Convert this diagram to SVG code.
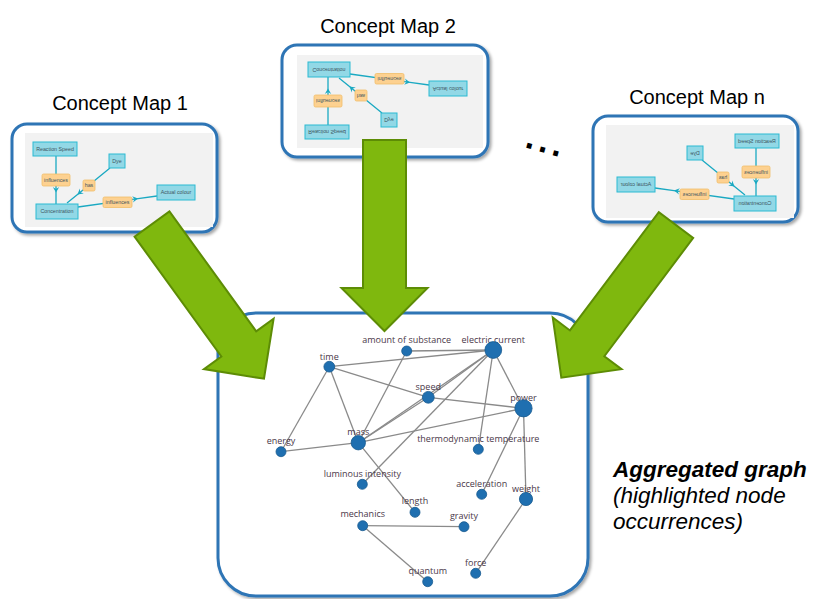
<svg xmlns="http://www.w3.org/2000/svg" xmlns:xlink="http://www.w3.org/1999/xlink" width="814" height="599" viewBox="0 0 814 599">
<style>
.title{font-family:"Liberation Sans",Arial,sans-serif;font-size:20px;fill:#000;text-anchor:middle}
.box{fill:#fff;stroke:#2e74b5;stroke-width:3}
.panel{fill:#f2f2f2}
.cn{fill:#92d8e6;stroke:#2bbad2;stroke-width:1}
.cl{fill:#fdd190;stroke:#f0be6a;stroke-width:0.8}
.ct{font-family:"Liberation Sans",Arial,sans-serif;font-size:5.3px;fill:#3d5560;text-anchor:middle}
.ce{fill:none;stroke:#1aa9c2;stroke-width:1.3}
.arrow{fill:#7fb80e;stroke:#5d8c05;stroke-width:2;stroke-linejoin:miter}
.ge{stroke:#8a8a8a;stroke-width:1.3}
.gn{fill:#1f6fb0;stroke:#185a8f;stroke-width:0.8}
.gt{font-family:"Open Sans","Liberation Sans",sans-serif;font-size:9px;fill:#4a3848;text-anchor:middle}
.agg{font-family:"Liberation Sans",Arial,sans-serif;font-size:22.5px;fill:#000;font-style:italic}
</style>
<defs>
<filter id="sh" x="-10%" y="-10%" width="130%" height="130%"><feDropShadow dx="2" dy="2" stdDeviation="1.5" flood-color="#000" flood-opacity="0.35"/></filter>
<marker id="ta" viewBox="-6 -4 7 8" refX="0" refY="0" markerWidth="7" markerHeight="8" markerUnits="userSpaceOnUse" orient="auto"><path d="M0,0 L-5.5,-3.2 L-3.6,0 L-5.5,3.2 Z" fill="#1aa9c2"/></marker>
<polygon id="arr" points="0,-21.5 148,-21.5 148,-43 191,0 148,43 148,21.5 0,21.5"/>
<g id="cmap">
<polyline class="ce" points="31,23 31,59.5 31,71" marker-mid="url(#ta)"/>
<polyline class="ce" points="85,35 52.5,61.5 42,70" marker-mid="url(#ta)"/>
<polyline class="ce" points="53,74 113,65.6 132,63" marker-mid="url(#ta)"/>
<rect class="cn" x="8" y="9" width="44" height="14"/><text class="ct" x="30" y="17.9">Reaction Speed</text>
<rect class="cn" x="84" y="21" width="16" height="14"/><text class="ct" x="92" y="29.9">Dye</text>
<rect class="cl" x="17" y="41" width="28" height="12" rx="1.5"/><text class="ct" x="31" y="48.9">influences</text>
<rect class="cl" x="58" y="47" width="12" height="11" rx="1.5"/><text class="ct" x="64" y="54.4">has</text>
<rect class="cn" x="132" y="52" width="38" height="15"/><text class="ct" x="151" y="61.4">Actual colour</text>
<rect class="cl" x="78" y="64" width="29" height="10.5" rx="1.5"/><text class="ct" x="92.5" y="71.2">influences</text>
<rect class="cn" x="11" y="71" width="42" height="15"/><text class="ct" x="32" y="80.4">Concentration</text>
</g>
</defs>

<g id="map1">
<text class="title" x="120" y="110">Concept Map 1</text>
<rect class="box" x="12" y="124" width="205" height="108" rx="15" filter="url(#sh)"/>
<rect class="panel" x="25" y="133" width="188" height="94"/>
<use xlink:href="#cmap" transform="translate(25,133)"/>
</g>

<g id="map2">
<text class="title" x="388" y="33">Concept Map 2</text>
<rect class="box" x="282" y="45" width="206" height="112" rx="15" filter="url(#sh)"/>
<rect class="panel" x="297" y="55" width="186" height="93"/>
<use xlink:href="#cmap" transform="translate(297,148) scale(1,-1)"/>
</g>

<g id="mapn">
<text class="title" x="697" y="104">Concept Map n</text>
<rect class="box" x="593" y="116" width="205" height="106" rx="15" filter="url(#sh)"/>
<rect class="panel" x="606" y="125" width="188" height="93"/>
<use xlink:href="#cmap" transform="translate(787,125) scale(-1,1)"/>
</g>

<text id="ellipsis" x="0" y="0" transform="translate(524,147) rotate(16)" style="font-family:'Liberation Sans',Arial,sans-serif;font-size:34px;font-weight:bold;letter-spacing:4.3px;fill:#000">...</text>

<g id="aggregated">
<rect class="box" x="218" y="313" width="370" height="283" rx="38" filter="url(#sh)"/>
</g>

<g id="connectors">
<line class="ge" x1="406.7" y1="351" x2="493.3" y2="350"/>
<line class="ge" x1="329.3" y1="366.7" x2="493.3" y2="350"/>
<line class="ge" x1="329.3" y1="366.7" x2="428.3" y2="397.3"/>
<line class="ge" x1="329.3" y1="366.7" x2="358.3" y2="442.7"/>
<line class="ge" x1="329.3" y1="366.7" x2="281" y2="451.7"/>
<line class="ge" x1="406.7" y1="351" x2="358.3" y2="442.7"/>
<line class="ge" x1="493.3" y1="350" x2="428.3" y2="397.3"/>
<line class="ge" x1="493.3" y1="350" x2="358.3" y2="442.7"/>
<line class="ge" x1="493.3" y1="350" x2="362.3" y2="484.3"/>
<line class="ge" x1="493.3" y1="350" x2="478.3" y2="449.3"/>
<line class="ge" x1="493.3" y1="350" x2="523.5" y2="408.3"/>
<line class="ge" x1="428.3" y1="397.3" x2="523.5" y2="408.3"/>
<line class="ge" x1="358.3" y1="442.7" x2="523.5" y2="408.3"/>
<line class="ge" x1="358.3" y1="442.7" x2="281" y2="451.7"/>
<line class="ge" x1="358.3" y1="442.7" x2="415" y2="512.3"/>
<line class="ge" x1="358.3" y1="442.7" x2="428.3" y2="397.3"/>
<line class="ge" x1="523.5" y1="408.3" x2="481.7" y2="494.3"/>
<line class="ge" x1="523.5" y1="408.3" x2="526" y2="499"/>
<line class="ge" x1="526" y1="499" x2="475.7" y2="573.3"/>
<line class="ge" x1="362.7" y1="525.7" x2="464" y2="526.7"/>
<line class="ge" x1="362.7" y1="525.7" x2="427.7" y2="581.7"/>
</g>

<g id="n-amount"><text class="gt" x="406.7" y="343">amount of substance</text><circle class="gn" cx="406.7" cy="351" r="5"/></g>
<g id="n-electric"><text class="gt" x="493.3" y="343">electric current</text><circle class="gn" cx="493.3" cy="350" r="8.4"/></g>
<g id="n-time"><text class="gt" x="329.3" y="360">time</text><circle class="gn" cx="329.3" cy="366.7" r="5.4"/></g>
<g id="n-speed"><text class="gt" x="428.3" y="390">speed</text><circle class="gn" cx="428.3" cy="397.3" r="5.9"/></g>
<g id="n-power"><text class="gt" x="523.5" y="400.5">power</text><circle class="gn" cx="523.5" cy="408.3" r="8.6"/></g>
<g id="n-mass"><text class="gt" x="358.3" y="435">mass</text><circle class="gn" cx="358.3" cy="442.7" r="7.2"/></g>
<g id="n-energy"><text class="gt" x="281" y="444">energy</text><circle class="gn" cx="281" cy="451.7" r="5"/></g>
<g id="n-thermo"><text class="gt" x="478.3" y="441.7">thermodynamic temperature</text><circle class="gn" cx="478.3" cy="449.3" r="5"/></g>
<g id="n-luminous"><text class="gt" x="362.3" y="476.7">luminous intensity</text><circle class="gn" cx="362.3" cy="484.3" r="5"/></g>
<g id="n-accel"><text class="gt" x="481.7" y="486.7">acceleration</text><circle class="gn" cx="481.7" cy="494.3" r="5"/></g>
<g id="n-weight"><text class="gt" x="526" y="491.7">weight</text><circle class="gn" cx="526" cy="499" r="6.6"/></g>
<g id="n-length"><text class="gt" x="415" y="504">length</text><circle class="gn" cx="415" cy="512.3" r="5"/></g>
<g id="n-mechanics"><text class="gt" x="362.7" y="517">mechanics</text><circle class="gn" cx="362.7" cy="525.7" r="5"/></g>
<g id="n-gravity"><text class="gt" x="464" y="519">gravity</text><circle class="gn" cx="464" cy="526.7" r="5"/></g>
<g id="n-force"><text class="gt" x="475.7" y="565.7">force</text><circle class="gn" cx="475.7" cy="573.3" r="5"/></g>
<g id="n-quantum"><text class="gt" x="427.7" y="574">quantum</text><circle class="gn" cx="427.7" cy="581.7" r="5"/></g>

<g id="arrows">
<use xlink:href="#arr" class="arrow" transform="translate(384.5,140) rotate(90)"/>
<use xlink:href="#arr" class="arrow" transform="translate(152,224) rotate(54.1)"/>
<use xlink:href="#arr" class="arrow" transform="translate(676,225) rotate(126.9)"/>
</g>

<g id="caption">
<text class="agg" x="613" y="477" font-weight="bold">Aggregated graph</text>
<text class="agg" x="613" y="503">(highlighted node</text>
<text class="agg" x="613" y="529">occurrences)</text>
</g>
</svg>
